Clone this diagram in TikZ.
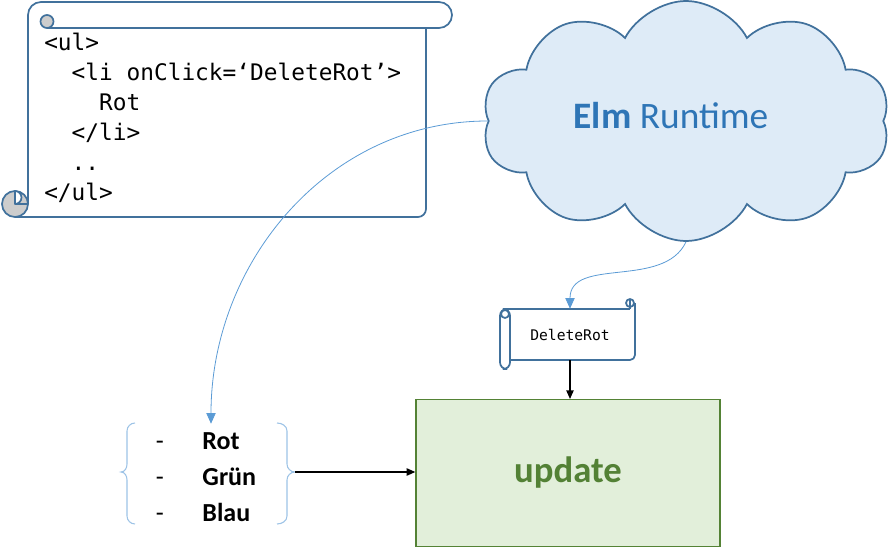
\documentclass[tikz,border=0pt]{standalone}
\usepackage{fontspec}
\setmainfont{Carlito}
\newfontfamily\codefont{DejaVu Sans Mono}
\usetikzlibrary{arrows.meta, positioning, shapes.symbols, calc}

\definecolor{scrollblue}{RGB}{65,113,156}
\definecolor{cloudfill}{RGB}{222,235,247}
\definecolor{elmblue}{RGB}{46,117,182}
\definecolor{linkblue}{RGB}{91,155,213}
\definecolor{bracecol}{RGB}{157,195,230}
\definecolor{updfill}{RGB}{226,239,218}
\definecolor{updline}{RGB}{84,130,53}
\definecolor{updtext}{RGB}{83,129,53}
\definecolor{curlgray}{RGB}{205,205,205}

\begin{document}
\begin{tikzpicture}[
    x=0.75pt, y=-0.75pt,
    scrollline/.style={draw=scrollblue, line width=1.3pt, line join=round},
    curlfill/.style={scrollline, fill=curlgray},
    runtime/.style={cloud, cloud puffs=10, cloud puff arc=125, aspect=1.7, draw=scrollblue, fill=cloudfill, line width=1.3pt, minimum width=306pt, minimum height=180pt, inner sep=0pt},
    elmtext/.style={text=elmblue, font=\fontsize{28}{32}\selectfont},
    code/.style={anchor=north west, inner sep=0pt, align=left, font=\codefont\fontsize{17.1}{22.5}\selectfont},
    msgbox/.style={minimum width=97.5pt, minimum height=38.25pt, inner sep=0pt, font=\codefont\fontsize{11}{12}\selectfont},
    updbox/.style={draw=updline, fill=updfill, line width=1pt, minimum width=228pt, minimum height=110pt, text=updtext, font=\bfseries\fontsize{27.5}{30}\selectfont},
    items/.style={inner sep=0pt, font=\fontsize{19.5}{27}\selectfont},
    brace/.style={draw=bracecol, line width=0.8pt},
    link/.style={-{Triangle[length=8pt,width=7pt]}, draw=linkblue, line width=0.6pt},
    flow/.style={-{Triangle[length=6.5pt,width=5.5pt]}, line width=1pt}
]
\useasboundingbox (0,0) rectangle (893,549);

% horizontal scroll (view)
\draw[scrollline] (28,28) -- (28,15) arc[start angle=180, end angle=270, radius=13]
    -- (439,2) arc[start angle=270, end angle=450, radius=13] -- (47,28);
\filldraw[curlfill] (47,21.5) circle[radius=6.5];
\draw[scrollline] (28,28) -- (28,204);
\draw[scrollline] (15,217) -- (418,217) arc[start angle=90, end angle=0, radius=8] -- (426,28);
\filldraw[curlfill] (15,204) circle[radius=13];
\filldraw[scrollline, fill=white] (15,191) arc[start angle=270, end angle=450, radius=6.5] -- cycle;
\draw[scrollline] (15,204) -- (28,204);

\node[code] (view) at (44,33) {%
<ul>\\
\phantom{xx}<li onClick=‘DeleteRot’>\\
\phantom{xxxx}Rot\\
\phantom{xx}</li>\\
\phantom{xx}..\\
</ul>};

% cloud
\node[runtime] (rt) at (686,121) {};
\node[elmtext] (rtlabel) at (671,116) {\textbf{Elm} Runtime};

% vertical scroll (message)
\draw[scrollline, rounded corners=5pt] (500,309) rectangle (510,369);
\draw[scrollline] (505,314) circle[radius=4];
\draw[scrollline] (505,309) -- (630,309);
\draw[scrollline] (630,309) -- (630,300);
\draw[scrollline] (630,303) circle[radius=4];
\draw[scrollline] (635,303) -- (635,355) arc[start angle=0, end angle=90, radius=5] -- (510,360);
\node[msgbox] (msg) at (570,334.5) {DeleteRot};

% update
\node[updbox] (update) at (568,473) {update};

% list of colours
\node[items] (list) at (206,478) {%
\begin{tabular}{@{}l@{\hspace{29pt}}l@{}}
- & \textbf{Rot}\\
- & \textbf{Grün}\\
- & \textbf{Blau}
\end{tabular}};

% braces
\draw[brace] (135,423) to[out=180,in=90] (127,431) -- (127,464) to[out=270,in=0] (121,472)
    to[out=0,in=90] (127,480) -- (127,516) to[out=270,in=180] (135,524);
\draw[brace] (277,423) to[out=0,in=90] (287,431) -- (287,464) to[out=270,in=180] (295,472)
    to[out=180,in=90] (287,480) -- (287,516) to[out=270,in=0] (277,524);
\coordinate (bracetip) at (295,472);

% arrows
\draw[link] (rt.west) to[out=180,in=90] ([xshift=3.75pt]list.north);
\draw[link] (rt.south) to[out=245,in=90] (msg.north);
\draw[flow] (msg.south) -- (msg.south |- update.north);
\draw[flow] (bracetip) -- (bracetip -| update.west);

\end{tikzpicture}
\end{document}
